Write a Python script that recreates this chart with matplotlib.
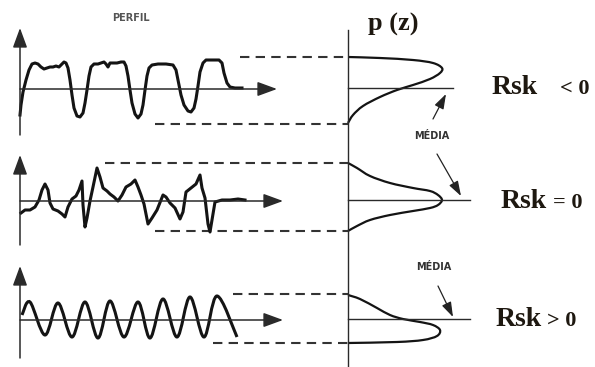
import numpy as np
import matplotlib
matplotlib.use("Agg")
import matplotlib.pyplot as plt
from matplotlib.path import Path
from matplotlib.patches import PathPatch

# canvas is laid out in pixel units (x right, y down)
W, H = 595, 367

# profile traces (x, y) for the three surfaces
prof_neg = [(20,115),(21,105),(23,92),(26,80),(29,70),(32,64),(35,63),(38,64),(41,67),(44,69),
            (47,68),(50,67),(53,67),(56,66),(59,67),(62,64),(64,62),(66,63),(68,68),(70,80),
            (72,95),(74,108),(77,116),(80,117),(83,113),(85,103),(87,90),(89,76),(91,67),(94,64),
            (98,64),(101,63),(104,62),(106,64),(108,67),(110,63),(113,63),(117,63),(121,62),(124,62),
            (126,66),(128,76),(130,90),(132,103),(135,114),(138,118),(141,114),(143,105),(145,90),
            (147,76),(149,68),(152,65),(158,64),(166,64),(173,65),(176,70),(178,80),(181,95),
            (184,105),(188,111),(191,112),(194,108),(196,99),(198,86),(200,72),(203,63),(206,60),
            (212,60),(219,60),(222,63),(224,73),(227,83),(230,87),(235,88),(242,88)]

prof_zero = [(21,213),(25,210),(30,210),(35,207),(39,200),(42,190),(45,184),(48,190),(50,203),
             (53,209),(58,211),(62,214),(65,217),(68,207),(72,199),(76,196),(79,190),(82,181),
             (83,205),(85,227),(87,218),(90,201),(93,187),(97,168),(100,177),(103,188),(107,191),
             (110,194),(114,197),(118,201),(122,195),(126,187),(131,184),(135,180),(138,187),
             (141,195),(144,204),(148,224),(152,218),(157,210),(163,195),(166,197),(170,203),
             (175,208),(180,219),(183,212),(186,192),(191,188),(196,184),(200,175),(202,188),
             (205,198),(208,224),(210,232),(212,220),(215,202),(222,200),(230,200),(238,199),(245,200)]

# extrema of the periodic profile
prof_pos = [(22,315),(30,302),(45,335),(58,303),(72,337),(85,302),(98,338),(110,301),(124,337),
            (138,302),(150,338),(163,299),(177,337),(190,297),(204,337),(217,296),(237,337)]

# amplitude density curves p(z)
dens_neg = [(348,57),(380,58),(413,60),(433,63),(442,68),(440,73),(430,79),(413,85),(397,90),
            (380,97),(363,106),(353,115),(348,123)]
dens_zero = [(348,163),(357,168),(370,176),(390,183),(413,188),(430,191),(438,195),(442,200),
             (438,205),(430,208),(413,211),(390,215),(370,220),(357,226),(348,231)]
dens_pos = [(348,295),(360,299),(377,308),(390,315),(403,319),(420,322),(433,325),(440,330),
            (437,336),(423,340),(397,342),(348,343)]

# per panel: mean line y, top / bottom dashed levels and dash start x
mean_y = [88, 200, 319]
mean_end = [453, 470, 470]
top_y = [57, 163, 294]
top_x0 = [240, 105, 233]
bot_y = [124, 231, 343]
bot_x0 = [155, 155, 213]
yaxis_top = [28, 155, 266]
yaxis_bot = [135, 245, 358]
xaxis_end = [277, 283, 283]
relations = ["< 0", "= 0", "> 0"]
rsk_pos = [(492, 88), (501, 202), (496, 320)]
rel_x = [560, 553, 547]

pz_x = 348


def smooth(points):
    # Catmull-Rom through the points, as cubic Bezier segments
    p = np.array(points, dtype=float)
    ext = np.vstack([p[0], p, p[-1]])
    verts = [p[0]]
    codes = [Path.MOVETO]
    for i in range(1, len(ext) - 2):
        c1 = ext[i] + (ext[i+1] - ext[i-1]) / 6
        c2 = ext[i+1] - (ext[i+2] - ext[i]) / 6
        verts += [c1, c2, ext[i+1]]
        codes += [Path.CURVE4] * 3
    return Path(verts, codes)


fig = plt.figure(figsize=(W/100, H/100), dpi=100)
ax = fig.add_axes([0, 0, 1, 1])
ax.set_xlim(0, W)
ax.set_ylim(H, 0)
ax.axis("off")

ink = "#141414"
serif = dict(fontweight="bold", family="Liberation Serif", color="#1e1810", va="center")
dash = (0, (4.5, 3))
head = dict(arrowstyle="-|>,head_length=0.6,head_width=0.22", mutation_scale=20,
            lw=1.1, color="#2a2a2a", shrinkA=0, shrinkB=0)

for i in range(3):
    # profile axes with filled heads
    ax.annotate("", xy=(20, yaxis_top[i]), xytext=(20, yaxis_bot[i]), arrowprops=head)
    ax.annotate("", xy=(xaxis_end[i], mean_y[i] + 1), xytext=(20, mean_y[i] + 1), arrowprops=head)
    # peak / valley levels carried over to the density plot
    ax.plot([top_x0[i], pz_x], [top_y[i], top_y[i]], color="#333333", lw=1.5, ls=dash)
    ax.plot([bot_x0[i], pz_x], [bot_y[i], bot_y[i]], color="#333333", lw=1.5, ls=dash)
    # mean line
    ax.plot([pz_x, mean_end[i]], [mean_y[i], mean_y[i]], color="#2a2a2a", lw=1.0)
    ax.text(rsk_pos[i][0], rsk_pos[i][1], "Rsk", ha="left", fontsize=20, **serif)
    ax.text(rel_x[i], rsk_pos[i][1] + 1, relations[i], ha="left", fontsize=16, **serif)

ax.plot(*zip(*prof_neg), color=ink, lw=2.2, solid_joinstyle="round")
ax.plot(*zip(*prof_zero), color=ink, lw=2.2, solid_joinstyle="round")
ax.add_patch(PathPatch(smooth(prof_pos), fill=False, ec=ink, lw=2.2))

for d in (dens_neg, dens_zero, dens_pos):
    ax.add_patch(PathPatch(smooth(d), fill=False, ec=ink, lw=1.6))

# p(z) axis
ax.plot([pz_x, pz_x], [30, H], color="#2a2a2a", lw=1.0)
ax.text(393, 24, "p (z)", ha="center", fontsize=19, **serif)

ax.text(131, 18, "PERFIL", ha="center", va="center", fontsize=7, fontweight="bold",
        color="#555555")

# MÉDIA pointers
media_arrows = [((433, 119), (446, 94)), ((437, 154), (461, 196)), ((438, 286), (453, 317))]
for tail, tip in media_arrows:
    ax.annotate("", xy=tip, xytext=tail,
                arrowprops=dict(arrowstyle="-|>,head_length=0.9,head_width=0.3",
                                mutation_scale=10, lw=0.9, color="#222222", shrinkA=0, shrinkB=0))
for x, y in [(432, 136), (434, 267)]:
    ax.text(x, y, "MÉDIA", ha="center", va="center", fontsize=7, fontweight="bold",
            color="#333333")

fig.savefig("out.png", dpi=100)
